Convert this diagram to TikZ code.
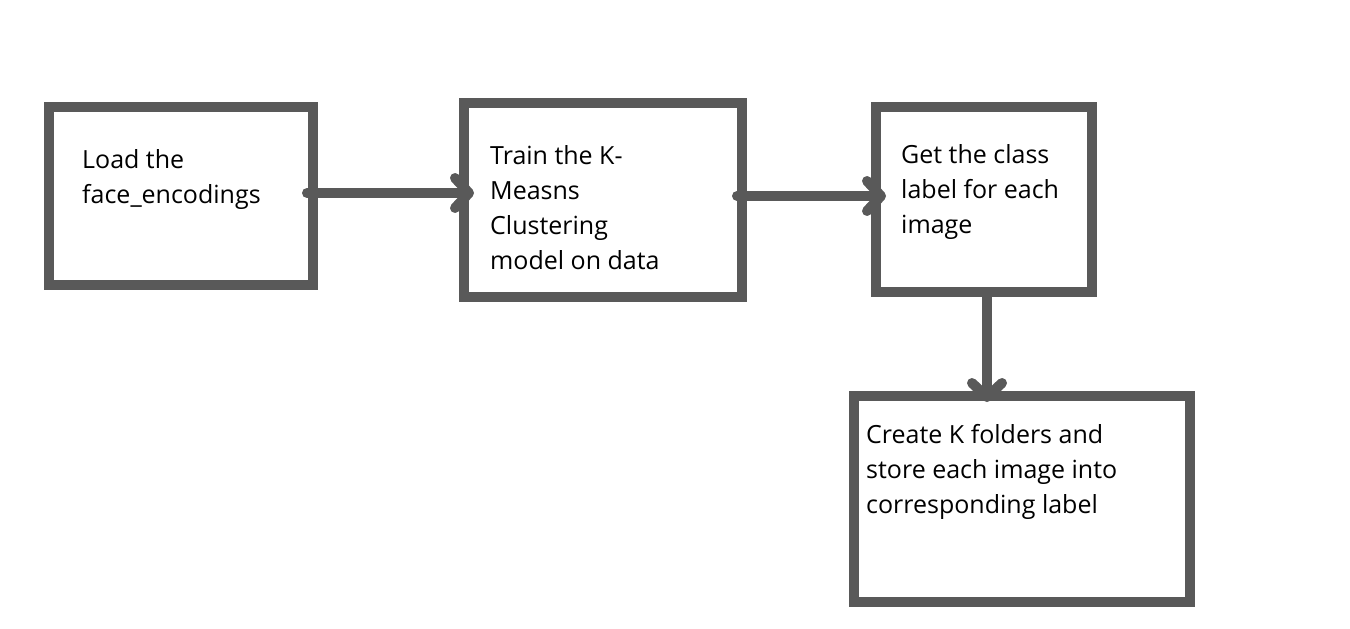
\documentclass[tikz,border=0pt]{standalone}
\usepackage{fontspec}
\setmainfont{Open Sans}
\usetikzlibrary{arrows.meta}
\definecolor{boxgray}{HTML}{595959}
\begin{document}
\begin{tikzpicture}[x=1pt,y=-1pt,
  box/.style={draw=boxgray,line width=10pt,rectangle,outer sep=0pt,inner sep=0pt,fill=white},
  txt/.style={anchor=base west,align=left,inner sep=0pt,font=\fontsize{25}{35}\selectfont,text=black},
  arr/.style={draw=boxgray,line width=10pt,line cap=round,-{Straight Barb[length=14pt,width=30pt,round]}}]
\useasboundingbox (0,0) rectangle (1350,629);
\fill[white] (0,0) rectangle (1350,629);
\node[box,minimum width=264pt,minimum height=178pt] (b1) at (181,196) {};
\node[box,minimum width=278pt,minimum height=194pt] (b2) at (603,200) {};
\node[box,minimum width=216pt,minimum height=185pt] (b3) at (984,199.5) {};
\node[box,minimum width=336pt,minimum height=206pt] (b4) at (1022,499) {};
\node[txt] (t1) at (82,203) {Load the\\face\_encodings};
\node[txt] (t2) at (490,269) {Train the K-\\Measns\\Clustering\\model on data};
\node[txt] (t3) at (901,233) {Get the class\\label for each\\image};
\node[txt] (t4) at (866,513) {Create K folders and\\store each image into\\corresponding label};
\draw[arr] ([xshift=-6pt,yshift=3pt]b1.east) -- ([xshift=10pt,yshift=3pt]b1.east -| b2.west);
\draw[arr] ([xshift=-5pt,yshift=4pt]b2.east) -- ([xshift=10pt,yshift=4pt]b2.east -| b3.west);
\draw[arr] ([xshift=3pt]b3.south) -- ([xshift=3pt,yshift=-6pt]b3.south |- b4.north);
\end{tikzpicture}
\end{document}
